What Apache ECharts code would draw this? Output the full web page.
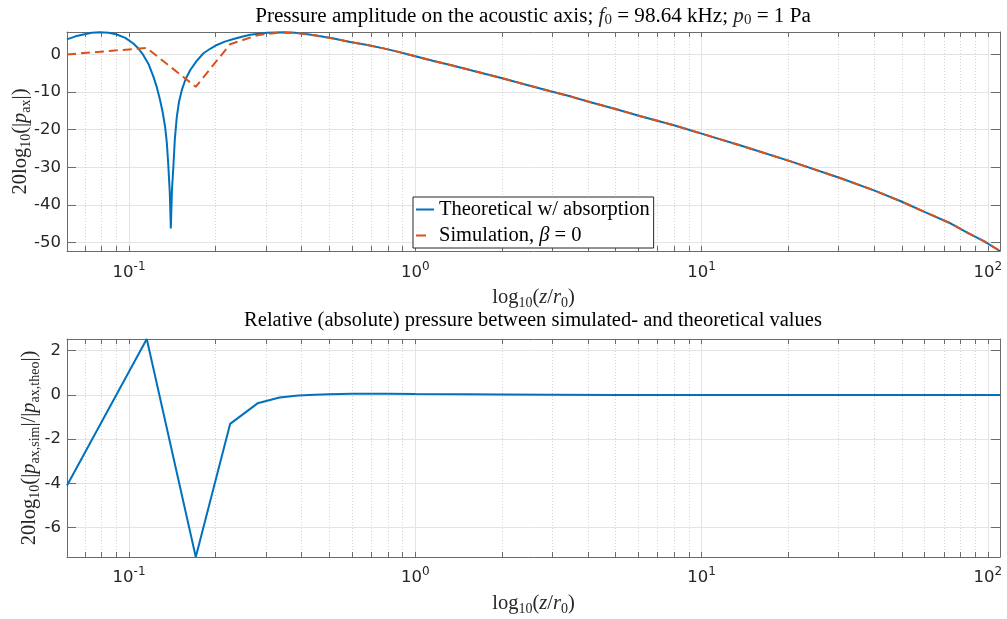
<!DOCTYPE html>
<html><head><meta charset="utf-8">
<script src="https://cdn.jsdelivr.net/npm/echarts@6/dist/echarts.min.js"></script>
<style>html,body{margin:0;padding:0;background:#fff}#c{width:1007px;height:619px}</style>
</head><body><div id="c"></div>
<script>
// ---- data ----
const theoZ  = [0.0607,0.065,0.0692,0.074,0.0792,0.085,0.0906,0.097,0.1035,0.108,0.1122,0.117,0.1216,0.125,0.1283,0.131,0.1336,0.1355,0.1372,0.1388,0.1399,0.1412,0.1428,0.1445,0.1468,0.1495,0.1528,0.1575,0.1634,0.172,0.1819,0.192,0.2026,0.216,0.2316,0.248,0.2649,0.283,0.3031,0.325,0.3463,0.37,0.3962,0.45,0.5181,0.5925,0.68,0.7747,0.88,1.0,1.15,1.3255,1.6,1.982,2.4,2.965,3.5,4.092,5.0,6.12,8.0,10.06,13.69,20.47,30.62,40,49.64,60,74.25,85,96.8,110.2];
const theoDb = [4.0,4.8,5.3,5.75,5.9,5.75,5.3,4.4,2.9,1.5,-0.2,-2.6,-5.9,-8.7,-12.1,-15.3,-19.2,-23.5,-29.8,-37.0,-46.2,-36.0,-29.8,-22.5,-16.6,-12.5,-9.5,-6.6,-4.2,-1.8,0.3,1.5,2.5,3.4,4.1,4.7,5.2,5.5,5.75,5.85,5.9,5.8,5.6,5.0,4.2,3.3,2.5,1.6,0.6,-0.5,-1.7,-2.8,-4.4,-6.2,-7.9,-9.8,-11.2,-12.7,-14.5,-16.4,-18.8,-21.1,-24.2,-28.4,-32.9,-36.1,-39.0,-41.8,-44.9,-47.4,-49.6,-52.2];
const simZ   = [0.0607,0.1153,0.171,0.2254,0.281,0.3354,0.39,0.45,0.5181,0.5925,0.68,0.7747,0.88,1.0,1.15,1.3255,1.6,1.982,2.4,2.965,3.5,4.092,5.0,6.12,8.0,10.06,13.69,20.47,30.62,40,49.64,60,74.25,85,96.8,110.2];
const simDb  = [0.0,1.7,-8.6,2.7,5.1,5.8,5.6,5.0,4.2,3.3,2.5,1.6,0.6,-0.5,-1.7,-2.8,-4.4,-6.2,-7.9,-9.8,-11.2,-12.7,-14.5,-16.4,-18.8,-21.1,-24.2,-28.4,-32.9,-36.1,-39.0,-41.8,-44.9,-47.4,-49.6,-52.2];
const relZ   = [0.0607,0.1153,0.171,0.2254,0.281,0.3354,0.39,0.445,0.5,0.6,0.8,1.0,1.5,2,3,5,10,20,50,110.2];
const relDb  = [-4.1,2.53,-7.33,-1.31,-0.38,-0.12,-0.03,0.01,0.03,0.05,0.05,0.04,0.03,0.02,0.01,0.0,0.0,0.0,0.0,0.0];
const xMinorTicks = [0.07,0.08,0.09,0.2,0.3,0.4,0.5,0.6,0.7,0.8,0.9,2,3,4,5,6,7,8,9,20,30,40,50,60,70,80,90];
const X_MIN = 0.0607, X_MAX = 110.2;
const TOP_Y_MIN = -52.2, TOP_Y_MAX = 5.95;
const BOT_Y_MIN = -7.33, BOT_Y_MAX = 2.53;
const seriesNames = ['Theoretical w/ absorption', 'Simulation, β = 0'];

// ---- styles ----
const SERIF = "'Liberation Serif','Times New Roman',serif";
const SANS = "'DejaVu Sans','Liberation Sans',Arial,sans-serif";
const TXT = '#262626';
const AX = '#6b6b6b';
const GRIDC = '#e4e4e4';
const MINORC = '#d2d2d2';
const BLUE = '#0072BD', ORANGE = '#D95319';
const FS = 20.5;
const TFS = 16.5;

function serifRich(size){ return {
  i:{fontFamily:SERIF,fontSize:size,fontStyle:'italic',lineHeight:24,color:TXT},
  s:{fontFamily:SERIF,fontSize:Math.round(size*0.7),lineHeight:14,verticalAlign:'bottom',color:TXT}
};}
function serifStyle(extra, size){ size = size || FS; return Object.assign({fontFamily:SERIF,fontSize:size,fontWeight:'normal',color:TXT,lineHeight:24,rich:serifRich(size)}, extra||{}); }
const tickRich = {
  b:{fontFamily:SANS,fontSize:TFS,lineHeight:24,color:TXT},
  e:{fontFamily:SANS,fontSize:12,lineHeight:12,verticalAlign:'top',color:TXT}
};
function xLabelFmt(v){ const e = Math.round(Math.log10(v)); return '{b|10}{e|' + e + '}'; }

function xAxes(gi, margin){
  const common = {type:'log', logBase:10, gridIndex:gi, min:X_MIN, max:X_MAX, splitNumber:5};
  const line = {show:true,onZero:false,lineStyle:{color:AX,width:1}};
  const tick = {show:true,inside:true,length:5,lineStyle:{color:AX,width:1}};
  return [
    Object.assign({}, common, {position:'bottom', axisLine:line, axisTick:tick,
      axisLabel:{show:true,showMinLabel:false,showMaxLabel:false,margin:margin,formatter:xLabelFmt,rich:tickRich},
      splitLine:{show:true,lineStyle:{color:GRIDC,width:1}},
      name:'log{s|10}({i|z}/{i|r}{s|0})', nameLocation:'middle', nameGap:35, nameMoveOverlap:false,
      nameTextStyle:serifStyle()}),
    Object.assign({}, common, {position:'top', axisLine:line, axisTick:tick,
      axisLabel:{show:false}, splitLine:{show:false}})
  ];
}
function yAxes(gi, min, max, name, gap){
  const common = {type:'value', gridIndex:gi, min:min, max:max, splitNumber:5};
  const line = {show:true,onZero:false,lineStyle:{color:AX,width:1}};
  const tick = {show:true,inside:true,length:9,lineStyle:{color:AX,width:1}};
  return [
    Object.assign({}, common, {position:'left', axisLine:line, axisTick:tick,
      axisLabel:{show:true,showMinLabel:false,showMaxLabel:false,margin:6,fontFamily:SANS,fontSize:TFS,color:TXT},
      splitLine:{show:true,lineStyle:{color:GRIDC,width:1}},
      name:name, nameLocation:'middle', nameGap:gap, nameRotate:90, nameMoveOverlap:false,
      nameTextStyle:serifStyle()}),
    Object.assign({}, common, {position:'right', axisLine:line, axisTick:tick,
      axisLabel:{show:false}, splitLine:{show:false}})
  ];
}
function minorSeries(gi){
  return {type:'custom', xAxisIndex:gi*2, yAxisIndex:gi*2, silent:true, z:1, clip:false,
    data: xMinorTicks.map(v => [v, 0]),
    renderItem: function(params, api){
      const cs = params.coordSys;
      const x = Math.round(api.coord([api.value(0), 0])[0]) + 0.5;
      const y0 = cs.y, y1 = cs.y + cs.height;
      return {type:'group', children:[
        {type:'line', shape:{x1:x,y1:y0,x2:x,y2:y1}, style:{stroke:MINORC,lineWidth:1,lineDash:[1,2]}},
        {type:'line', shape:{x1:x,y1:y1,x2:x,y2:y1-5}, style:{stroke:AX,lineWidth:1}},
        {type:'line', shape:{x1:x,y1:y0,x2:x,y2:y0+5}, style:{stroke:AX,lineWidth:1}}
      ]};
    }};
}
function pairs(xs, ys){ return xs.map((x,i) => [x, ys[i]]); }

const chart = echarts.init(document.getElementById('c'), null, {renderer:'canvas'});
chart.setOption({
  animation:false,
  backgroundColor:'#fff',
  title:[
    {text:'Pressure amplitude on the acoustic axis; {i|f}{s|0} = 98.64 kHz; {i|p}{s|0} = 1 Pa',
     left:533, top:4, textAlign:'center', padding:0, textStyle:serifStyle({color:'#000'}, 21.1)},
    {text:'Relative (absolute) pressure between simulated- and theoretical values',
     left:533, top:309, textAlign:'center', padding:0, textStyle:serifStyle({color:'#000'})}
  ],
  legend:{
    data:[
      {name:seriesNames[0], icon:'path://M0,0H18V2H0Z'},
      {name:seriesNames[1], icon:'path://M0,0H10V2H0Z M18,0L18,2L18,0Z'}
    ],
    orient:'vertical', left:413, top:197, backgroundColor:'#fff',
    borderColor:'#262626', borderWidth:1, borderRadius:0, padding:[2,4,2,3],
    itemWidth:18, itemHeight:2, itemGap:5,
    textStyle:{fontFamily:SERIF,fontSize:FS,color:'#000',lineHeight:20,
      rich:{i:{fontFamily:SERIF,fontSize:FS,fontStyle:'italic',color:'#000',lineHeight:20}}},
    formatter: n => n.replace('β','{i|β}')},
  grid:[
    {left:67, right:7, top:32, height:219, outerBoundsMode:'none', containLabel:false},
    {left:67, right:7, top:339, height:218, outerBoundsMode:'none', containLabel:false}
  ],
  xAxis: xAxes(0, 10).concat(xAxes(1, 9)),
  yAxis: yAxes(0, TOP_Y_MIN, TOP_Y_MAX, '20log{s|10}(|{i|p}{s|ax}|)', 34)
    .concat(yAxes(1, BOT_Y_MIN, BOT_Y_MAX, '20log{s|10}(|{i|p}{s|ax,sim}|/|{i|p}{s|ax,theo}|)', 25)),
  series:[
    minorSeries(0),
    {name:seriesNames[0], type:'line', xAxisIndex:0, yAxisIndex:0, data:pairs(theoZ, theoDb),
      symbol:'none', z:3, lineStyle:{color:BLUE,width:2}, itemStyle:{color:BLUE}},
    {name:seriesNames[1], type:'line', xAxisIndex:0, yAxisIndex:0, data:pairs(simZ, simDb),
      symbol:'none', z:4, lineStyle:{color:ORANGE,width:2,type:[9,5]}, itemStyle:{color:ORANGE}},
    minorSeries(1),
    {name:'Relative', type:'line', xAxisIndex:2, yAxisIndex:2, data:pairs(relZ, relDb),
      symbol:'none', z:3, lineStyle:{color:BLUE,width:2}, itemStyle:{color:BLUE}}
  ]
});
</script>
</body></html>
